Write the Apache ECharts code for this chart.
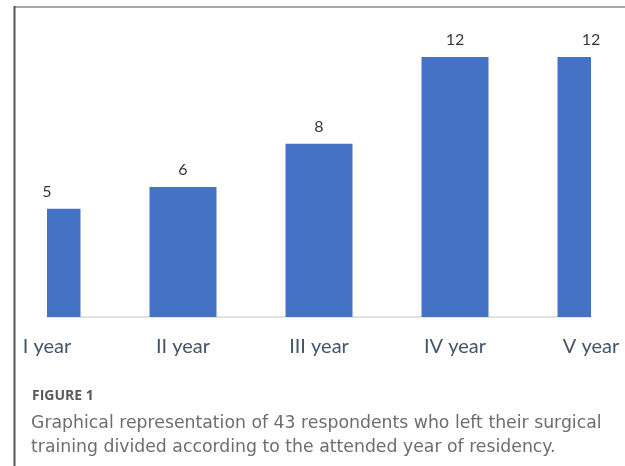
<!DOCTYPE html>
<html>
<head>
<meta charset="utf-8">
<script src="https://cdn.jsdelivr.net/npm/echarts@6/dist/echarts.min.js"></script>
<style>
  html, body { margin: 0; padding: 0; background: #fff; }
  #chart { width: 625px; height: 466px; }
</style>
</head>
<body>
<div id="chart"></div>
<script>
// Residency year categories and number of respondents who left per year
const categories = ['I year', 'II year', 'III year', 'IV year', 'V year'];
const respondents = [5, 6, 8, 12, 12];

const captionTitle = 'FIGURE 1';
const captionLines = [
  'Graphical representation of 43 respondents who left their surgical',
  'training divided according to the attended year of residency.'
];

const BAR_WIDTH = 67;
const BAR_COLOR = '#4472c4';

const chart = echarts.init(document.getElementById('chart'), null, { renderer: 'canvas' });

// Bars centred on each category tick, trimmed to the plotting area
function renderBar(params, api) {
  const top = api.coord([api.value(0), api.value(1)]);
  const base = api.coord([api.value(0), 0]);
  const cs = params.coordSys;
  const rect = echarts.graphic.clipRectByRect(
    { x: top[0] - BAR_WIDTH / 2, y: top[1], width: BAR_WIDTH, height: base[1] - top[1] },
    { x: cs.x, y: cs.y, width: cs.width, height: cs.height }
  );
  return rect && { type: 'rect', shape: rect, style: { fill: BAR_COLOR } };
}

chart.setOption({
  animation: false,
  backgroundColor: '#ffffff',
  grid: { left: 47, right: 34, top: 57, bottom: 149 },
  xAxis: {
    type: 'category',
    data: categories,
    boundaryGap: false,
    axisLine: { show: true, lineStyle: { color: '#d9d9d9', width: 1.5 } },
    axisTick: { show: false },
    axisLabel: {
      color: '#44546a',
      fontFamily: 'Lato',
      fontSize: 20,
      margin: 20,
      interval: 0
    },
    splitLine: { show: false }
  },
  yAxis: {
    type: 'value',
    min: 0,
    max: 12,
    show: false
  },
  series: [
    {
      type: 'custom',
      renderItem: renderBar,
      data: respondents.map((v, i) => [i, v]),
      encode: { x: 0, y: 1 }
    },
    {
      // value labels above the centre of each bar
      type: 'scatter',
      data: respondents,
      symbolSize: 0,
      silent: true,
      label: {
        show: true,
        position: 'top',
        distance: 9,
        color: '#000000',
        fontFamily: 'Lato',
        fontSize: 16
      }
    }
  ],
  graphic: [
    {
      type: 'line',
      shape: { x1: 14, y1: 7, x2: 625, y2: 7 },
      style: { stroke: '#a6a6a6', lineWidth: 2 }
    },
    {
      type: 'line',
      shape: { x1: 14.5, y1: 6, x2: 14.5, y2: 466 },
      style: { stroke: '#555555', lineWidth: 2 }
    },
    {
      type: 'text',
      left: 32,
      top: 389,
      style: {
        text: captionTitle,
        fill: '#5a5a5a',
        font: 'bold 14px "Open Sans"'
      }
    },
    {
      type: 'text',
      left: 31,
      top: 411,
      style: {
        text: captionLines.join('\n'),
        fill: '#6d6d6d',
        font: '17.3px "DejaVu Sans"',
        lineHeight: 24.5
      }
    }
  ]
});
</script>
</body>
</html>
